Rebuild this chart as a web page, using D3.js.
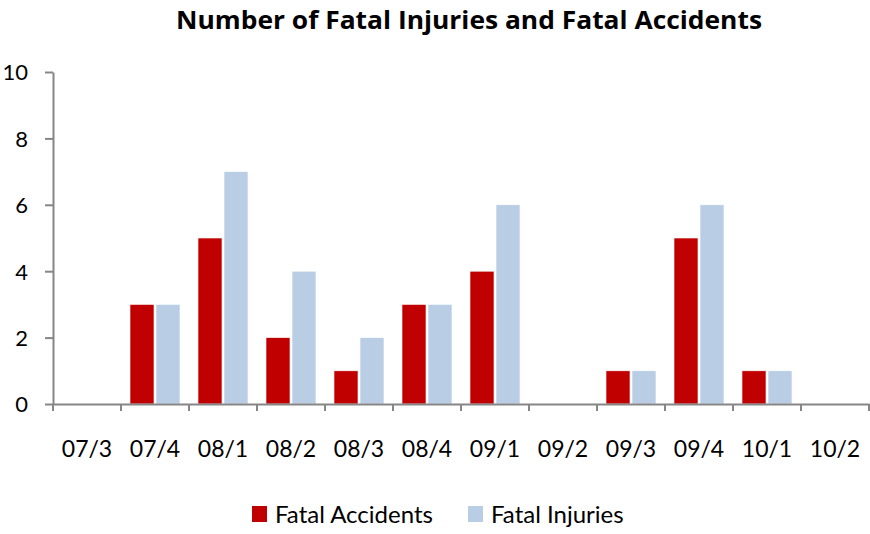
<!DOCTYPE html>
<html><head><meta charset="utf-8">
<script src="https://cdn.jsdelivr.net/npm/d3@7"></script>
<style>body{margin:0;background:#fff}svg{display:block}</style>
</head><body>
<svg id="c" width="870" height="534"></svg>
<script>
const categories = ["07/3","07/4","08/1","08/2","08/3","08/4","09/1","09/2","09/3","09/4","10/1","10/2"];
const fatalAccidents = [0,3,5,2,1,3,4,0,1,5,1,0];
const fatalInjuries  = [0,3,7,4,2,3,6,0,1,6,1,0];
const seriesNames = ["Fatal Accidents","Fatal Injuries"];
const seriesColors = ["#C00000","#B9CDE5"];
const yTicks = [0,2,4,6,8,10];

(function(){
const svg = d3.select("#c");
const font = "Lato, 'Open Sans', sans-serif";
const pLeft = 53, pRight = 869, pTop = 72, pBottom = 404;

const x = d3.scaleBand().domain(categories).range([pLeft, pRight]).paddingInner(0).paddingOuter(0);
const y = d3.scaleLinear().domain([0,10]).range([pBottom, pTop]);

svg.append("text").attr("x", 469).attr("y", 29).attr("text-anchor","middle")
  .attr("font-family", "'Open Sans', sans-serif").attr("font-weight","bold")
  .attr("font-size", 25).attr("textLength", 586).attr("lengthAdjust","spacingAndGlyphs")
  .text("Number of Fatal Injuries and Fatal Accidents");

const bw = 24, gap = 2;
const data = categories.map((c,i)=>({c, vals:[fatalAccidents[i], fatalInjuries[i]]}));
const g = svg.append("g");
data.forEach(d=>{
  d.vals.forEach((v,k)=>{
    if (v<=0) return;
    const cx = x(d.c) + x.bandwidth()/2;
    const x0 = k===0 ? cx - gap/2 - bw : cx + gap/2;
    g.append("rect").attr("x", x0).attr("y", y(v)).attr("width", bw).attr("height", y(0)-y(v))
      .attr("fill", seriesColors[k]).attr("stroke","#fff").attr("stroke-width",0.6);
  });
});

const yAxis = d3.axisLeft(y).tickValues(yTicks).tickSize(8).tickPadding(17).tickSizeOuter(0);
const ya = svg.append("g").attr("transform", `translate(${pLeft},0)`).call(yAxis);
ya.select(".domain").attr("stroke","#868686").attr("stroke-width",2);
ya.selectAll(".tick line").attr("stroke","#868686").attr("stroke-width",2);
ya.selectAll(".tick text").attr("font-family", font).attr("font-size", 22).attr("fill","#000").attr("dy","0.36em");

const xAxis = d3.axisBottom(x).tickSize(0).tickPadding(0);
const xa = svg.append("g").attr("transform", `translate(0,${pBottom})`).call(xAxis);
xa.select(".domain").attr("stroke","#868686").attr("stroke-width",2);
xa.selectAll(".tick text").attr("font-family", font).attr("font-size", 23).attr("fill","#000")
  .attr("y", 53).attr("dy", null);
const bounds = categories.map(c=>x(c)).concat([pRight]);
xa.selectAll(".sep").data(bounds).enter().append("line").attr("class","sep")
  .attr("x1",d=>d).attr("x2",d=>d).attr("y1",0).attr("y2",7)
  .attr("stroke","#868686").attr("stroke-width",2);

const leg = svg.append("g");
const lx = [252, 468];
seriesNames.forEach((n,k)=>{
  leg.append("rect").attr("x", lx[k]).attr("y", 506).attr("width", 15).attr("height", 16).attr("fill", seriesColors[k]);
  leg.append("text").attr("x", lx[k]+23).attr("y", 523).attr("font-family", font).attr("font-size", 24).text(n);
});
})();
</script>
</body></html>
